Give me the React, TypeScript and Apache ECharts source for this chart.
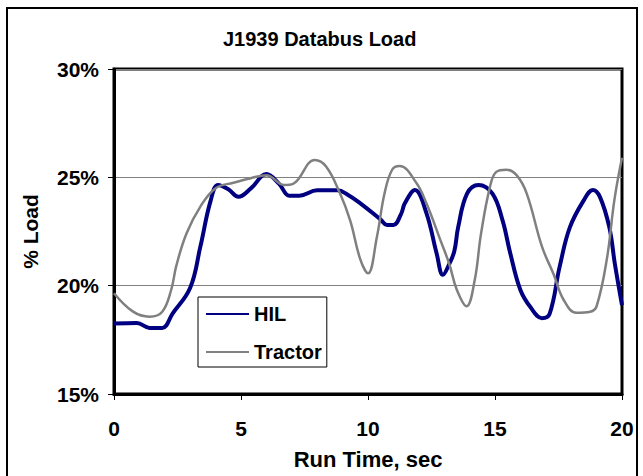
import React, { useEffect, useRef } from "react";
import * as echarts from "echarts";

const hilTime = [0, 0.9, 1.4, 1.9, 2.3, 3.0, 3.4, 3.8, 4.1, 4.5, 4.9, 5.4, 6.0, 6.5, 6.9, 7.3, 8.0, 8.8, 9.2, 9.7, 10.5, 10.75, 11.0, 11.3, 11.45, 11.85, 12.3, 12.7, 12.95, 13.2, 13.4, 13.55, 13.9, 14.35, 14.9, 15.3, 15.6, 16.0, 16.4, 16.85, 17.15, 17.55, 17.95, 18.5, 18.85, 19.13, 19.5, 19.72, 20.0];
const hilLoad = [18.25, 18.28, 18.05, 18.05, 18.7, 19.9, 21.8, 23.9, 24.65, 24.45, 24.1, 24.5, 25.15, 24.7, 24.15, 24.15, 24.4, 24.4, 24.2, 23.8, 23.05, 22.8, 22.8, 23.3, 23.8, 24.42, 23.35, 21.5, 20.5, 21.0, 21.6, 22.7, 24.25, 24.65, 24.25, 23.0, 21.5, 19.8, 19.0, 18.5, 18.7, 20.9, 22.7, 23.95, 24.42, 24.1, 22.7, 21.0, 19.1];

const tractorTime = [0, 0.75, 1.4, 1.9, 2.25, 2.45, 2.85, 3.4, 4.0, 4.7, 5.35, 6.0, 6.7, 7.05, 7.9, 8.35, 8.9, 9.3, 9.7, 10.0, 10.35, 10.65, 10.95, 11.25, 11.9, 12.3, 12.85, 13.2, 13.5, 13.88, 14.2, 14.45, 14.8, 15.05, 15.45, 15.85, 16.25, 16.85, 17.3, 17.7, 18.2, 18.75, 19.0, 19.4, 19.7, 20.0];
const tractorLoad = [19.65, 18.8, 18.57, 18.8, 19.8, 20.9, 22.4, 23.65, 24.5, 24.75, 24.95, 25.1, 24.65, 24.7, 25.8, 25.5, 24.25, 23.0, 21.2, 20.57, 22.25, 24.25, 25.35, 25.52, 24.75, 23.8, 22.1, 21.0, 19.8, 19.05, 20.25, 22.4, 24.55, 25.25, 25.35, 25.1, 24.25, 21.8, 20.55, 19.35, 18.75, 18.8, 19.05, 21.2, 23.95, 25.9];

const xTicks = { min: 0, max: 20, interval: 5 };
const yTicks = { min: 15, max: 30, interval: 5 };

const FONT = "'Liberation Sans', Arial, sans-serif";

export default function App() {
  const ref = useRef<HTMLDivElement>(null);
  useEffect(() => {
    if (!ref.current) return;
    const chart = echarts.init(ref.current, null, { renderer: "svg" });
    const pair = (t: number[], v: number[]) => t.map((x, i) => [x, v[i]]);
    chart.setOption({
      animation: false,
      backgroundColor: "#fff",
      title: {
        text: "J1939 Databus Load",
        left: 223,
        top: 29,
        padding: 0,
        textStyle: { fontFamily: FONT, fontSize: 20, fontWeight: "bold", color: "#000", lineHeight: 20 },
      },
      legend: {
        orient: "vertical",
        left: 198,
        top: 297,
        padding: [7, 5, 5, 7],
        itemGap: 18,
        itemWidth: 43,
        itemHeight: 14,
        borderColor: "#000",
        borderWidth: 1,
        borderRadius: 0,
        backgroundColor: "#fff",
        itemStyle: { color: "rgba(0,0,0,0)", borderWidth: 0, opacity: 0 },
        textStyle: { fontFamily: FONT, fontSize: 20, fontWeight: "bold", color: "#000", lineHeight: 20 },
        data: ["HIL", "Tractor"],
      },
      grid: {
        left: 114,
        right: 21,
        top: 69,
        bottom: 82,
        show: true,
        borderColor: "#000",
        borderWidth: 3,
        backgroundColor: "#fff",
        containLabel: false,
      },
      xAxis: {
        type: "value",
        min: xTicks.min,
        max: xTicks.max,
        interval: xTicks.interval,
        name: "Run Time, sec",
        nameLocation: "middle",
        nameGap: 54,
        nameTextStyle: { fontFamily: FONT, fontSize: 22, fontWeight: "bold", color: "#000", lineHeight: 22 },
        axisLine: { show: true, lineStyle: { color: "#000", width: 3 } },
        axisTick: { show: true, inside: false, length: 6, lineStyle: { color: "#000", width: 1 } },
        axisLabel: { margin: 24, fontFamily: FONT, fontSize: 21, fontWeight: "bold", color: "#000" },
        splitLine: { show: false },
      },
      yAxis: {
        type: "value",
        min: yTicks.min,
        max: yTicks.max,
        interval: yTicks.interval,
        name: "% Load",
        nameLocation: "middle",
        nameRotate: 90,
        nameGap: 73,
        nameTextStyle: { fontFamily: FONT, fontSize: 21, fontWeight: "bold", color: "#000", lineHeight: 21 },
        axisLine: { show: true, lineStyle: { color: "#000", width: 3 } },
        axisTick: { show: true, inside: false, length: 6, lineStyle: { color: "#000", width: 1 } },
        axisLabel: {
          margin: 15,
          fontFamily: FONT,
          fontSize: 21,
          fontWeight: "bold",
          color: "#000",
          formatter: "{value}%",
        },
        splitLine: { show: true, lineStyle: { color: "#808080", width: 1 } },
      },
      graphic: [
        {
          type: "rect",
          silent: true,
          z: -1,
          shape: { x: 7, y: 8, width: 630, height: 480 },
          style: { fill: "none", stroke: "#000", lineWidth: 2 },
        },
      ],
      series: [
        {
          name: "HIL",
          type: "line",
          data: pair(hilTime, hilLoad),
          smooth: 0.4,
          symbol: "none",
          lineStyle: { color: "#000080", width: 4 },
          itemStyle: { color: "#000080" },
        },
        {
          name: "Tractor",
          type: "line",
          data: pair(tractorTime, tractorLoad),
          smooth: 0.4,
          symbol: "none",
          lineStyle: { color: "#808080", width: 2.5 },
          itemStyle: { color: "#808080" },
        },
      ],
    });
    return () => chart.dispose();
  }, []);
  return (
    <div
      ref={ref}
      style={{ position: "fixed", left: 0, top: 0, width: 643, height: 476 }}
    />
  );
}
